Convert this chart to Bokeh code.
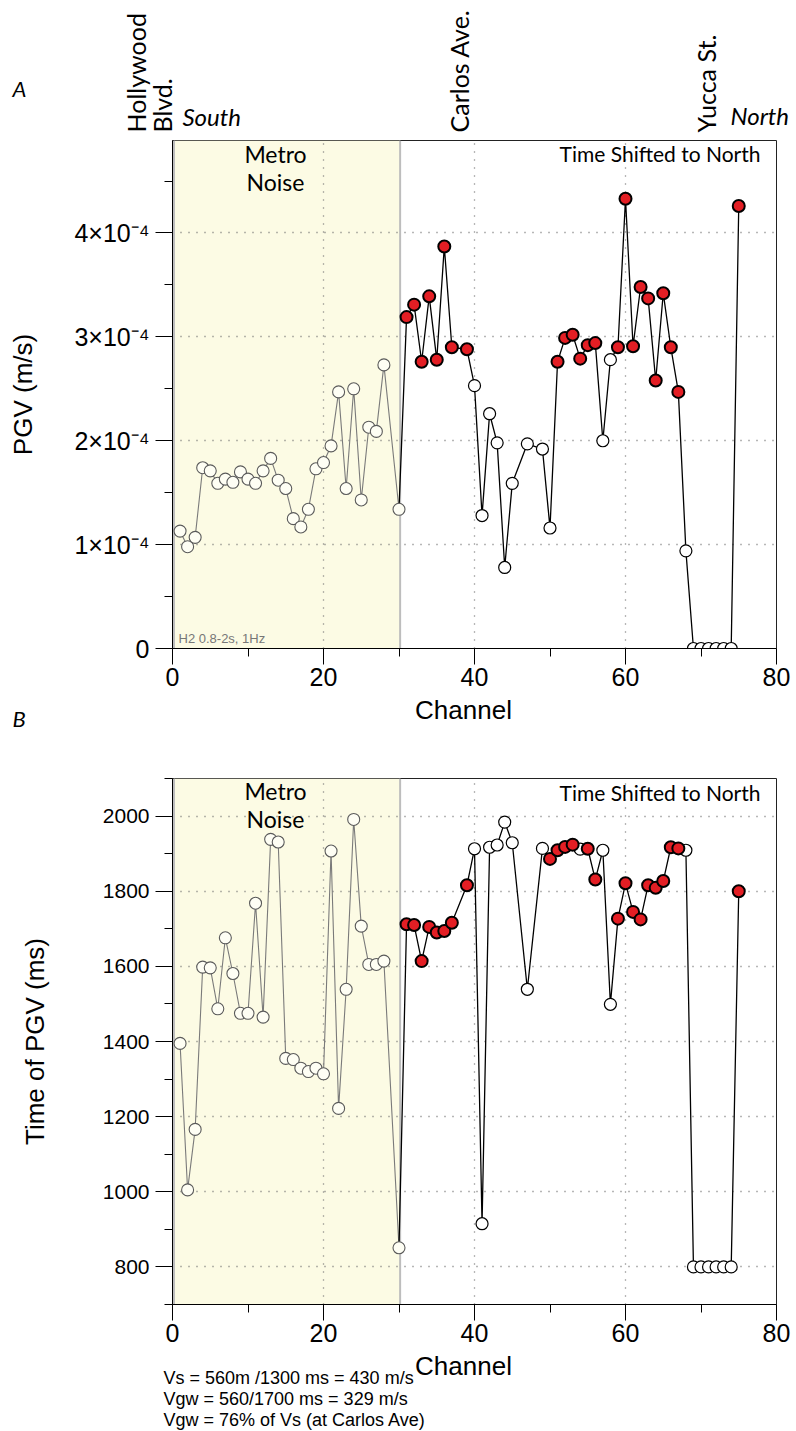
import math
from bokeh.plotting import figure
from bokeh.models import FixedTicker, Label, Span
from bokeh.layouts import column
from bokeh.embed import file_html
from bokeh.resources import INLINE

# ---------------- data ----------------
channels = [1, 2, 3, 4, 5, 6, 7, 8, 9, 10, 11, 12, 13, 14, 15, 16, 17, 18, 19, 20,
            21, 22, 23, 24, 25, 26, 27, 28, 30, 31, 32, 33, 34, 35, 36, 37, 39, 40,
            41, 42, 43, 44, 45, 47, 49, 50, 51, 52, 53, 54, 55, 56, 57, 58, 59, 60,
            61, 62, 63, 64, 65, 66, 67, 68, 69, 70, 71, 72, 73, 74, 75]

# PGV in units of 1e-4 m/s
pgv_1e4 = [1.13, 0.98, 1.07, 1.74, 1.71, 1.59, 1.63, 1.60, 1.70, 1.63, 1.59, 1.71, 1.83, 1.62,
           1.54, 1.25, 1.17, 1.34, 1.73, 1.79, 1.95, 2.47, 1.54, 2.50, 1.43, 2.13, 2.09, 2.73,
           1.34, 3.19, 3.31, 2.76, 3.39, 2.78, 3.87, 2.90, 2.88, 2.53, 1.28, 2.26, 1.98, 0.78,
           1.59, 1.97, 1.92, 1.16, 2.76, 2.99, 3.02, 2.79, 2.92, 2.94, 2.00, 2.78, 2.90, 4.33,
           2.91, 3.48, 3.37, 2.58, 3.42, 2.90, 2.47, 0.94, 0.0, 0.0, 0.0, 0.0, 0.0, 0.0, 4.26]

# Time of PGV in ms
t_pgv = [1395, 1005, 1166, 1598, 1596, 1487, 1676, 1581, 1475, 1475, 1768, 1465, 1938, 1931,
         1355, 1352, 1329, 1320, 1329, 1314, 1907, 1222, 1539, 1991, 1707, 1605, 1605, 1614,
         851, 1712, 1710, 1614, 1705, 1690, 1694, 1716, 1816, 1913, 915, 1917, 1923, 1984,
         1929, 1539, 1914, 1886, 1909, 1918, 1924, 1912, 1913, 1831, 1909, 1499, 1727, 1821,
         1745, 1725, 1816, 1809, 1827, 1917, 1914, 1909, 800, 800, 800, 800, 800, 800, 1800]

red_channels_A = [31, 32, 33, 34, 35, 36, 37, 39, 51, 52, 53, 54, 55, 56, 59, 60, 61, 62,
                  63, 64, 65, 66, 67, 75]
red_channels_B = [31, 32, 33, 34, 35, 36, 37, 39, 50, 51, 52, 53, 55, 56, 59, 60, 61, 62,
                  63, 64, 65, 66, 67, 75]

noise_last_channel = 30
noise_band = [0.2, 30.15]

x_ticks = [0, 20, 40, 60, 80]
x_minor = [10, 30, 50, 70]
pgv_ticks = [0, 1, 2, 3, 4]
pgv_minor = [0.5, 1.5, 2.5, 3.5, 4.5]
pgv_tick_labels = ["0", "1×10⁻⁴", "2×10⁻⁴", "3×10⁻⁴", "4×10⁻⁴"]
t_ticks = [800, 1000, 1200, 1400, 1600, 1800, 2000]
t_minor = [700, 900, 1100, 1300, 1500, 1700, 1900, 2100]

footer_lines = ["Vs = 560m /1300 ms = 430 m/s",
                "Vgw = 560/1700 ms = 329 m/s",
                "Vgw = 76% of Vs (at Carlos Ave)"]

# ---------------- style ----------------
W = 796
ANN_FONT = "Lato"
AX_FONT = "Liberation Sans"
DESC = 0.21          # font descent (fraction of size) used to place baselines
SHADE = "#FCFBE4"
RED = "#E31E24"
BORDER_L, BORDER_R = 172, 20
X_RANGE = (0, 80)


def aux(page_top, height):
    """A text-only canvas whose frame covers the whole strip (data y = -page pixel)."""
    f = figure(width=W, height=height, x_range=(0, W), y_range=(-(page_top + height), -page_top),
               output_backend="svg", toolbar_location=None, min_border=0,
               x_axis_location=None, y_axis_location=None, frame_align=False)
    f.title.visible = False
    f.outline_line_color = None
    f.grid.visible = False
    f.background_fill_color = "white"
    f.border_fill_color = "white"
    return f


def put(f, x, y, txt, size, font=ANN_FONT, style="normal", align="left",
        angle=0.0, color="black"):
    """(x, y): page pixel of the text's baseline start (or the vertical baseline for angle)."""
    if angle:
        x = x + DESC * size
    else:
        y = y + DESC * size
    f.add_layout(Label(x=x, y=-y, text=txt, text_font=font, text_font_size=f"{size}px",
                       text_font_style=style, text_align=align, text_baseline="bottom",
                       angle=angle, text_color=color))


def plot_panel(height, top, bottom, y_range, values, red_set, yticks, yminor,
               ylabels, ytick_size, ylabel, ylabel_standoff):
    p = figure(width=W, height=height, x_range=X_RANGE, y_range=y_range,
               output_backend="svg", toolbar_location=None,
               min_border_left=BORDER_L, min_border_right=BORDER_R,
               min_border_top=top, min_border_bottom=bottom)
    p.title.visible = False
    p.background_fill_color = "white"
    p.border_fill_color = "white"
    p.outline_line_color = "#222222"
    p.outline_line_width = 1

    y0, y1 = y_range
    # metro noise shading
    p.quad(left=[noise_band[0]], right=[noise_band[1]], bottom=[y0], top=[y1],
           fill_color=SHADE, line_color=None, level="image")
    for loc in noise_band:
        p.add_layout(Span(location=loc, dimension="height", line_color="#BDBDBD",
                          line_width=2, level="underlay"))

    # axes
    for ax in p.xaxis:
        ax.ticker = FixedTicker(ticks=x_ticks, minor_ticks=x_minor)
        ax.major_label_text_font_size = "25px"
        ax.major_label_standoff = 3
        ax.major_tick_out = 16
    for ax in p.yaxis:
        ax.ticker = FixedTicker(ticks=yticks, minor_ticks=yminor)
        if ylabels is not None:
            ax.major_label_overrides = {float(t): l for t, l in zip(yticks, ylabels)}
        ax.major_label_text_font_size = f"{ytick_size}px"
        ax.major_label_standoff = 6
        ax.major_tick_out = 17
        ax.axis_label = ylabel
        ax.axis_label_text_font = AX_FONT
        ax.axis_label_text_font_size = "26px"
        ax.axis_label_text_font_style = "normal"
        ax.axis_label_text_color = "black"
        ax.axis_label_standoff = ylabel_standoff
    for ax in list(p.xaxis) + list(p.yaxis):
        ax.axis_line_color = "black"
        ax.axis_line_width = 1
        ax.major_tick_in = 0
        ax.minor_tick_out = 8
        ax.minor_tick_in = 0
        ax.major_tick_line_color = "black"
        ax.minor_tick_line_color = "black"
        ax.major_label_text_font = AX_FONT
        ax.major_label_text_color = "black"

    # grid
    p.xgrid.ticker = FixedTicker(ticks=[t for t in x_ticks if X_RANGE[0] < t < X_RANGE[1]])
    p.ygrid.ticker = FixedTicker(ticks=yticks)
    for g in (p.xgrid, p.ygrid):
        g.grid_line_color = "#6f6f6f"
        g.grid_line_dash = "1 7"
        g.grid_line_width = 1.3

    # split data
    nx = [c for c in channels if c <= noise_last_channel]
    ny = [v for c, v in zip(channels, values) if c <= noise_last_channel]
    qx = [c for c in channels if c >= noise_last_channel]
    qy = [v for c, v in zip(channels, values) if c >= noise_last_channel]
    wx = [c for c in channels if c > noise_last_channel and c not in red_set]
    wy = [v for c, v in zip(channels, values) if c > noise_last_channel and c not in red_set]
    rx = [c for c in channels if c in red_set]
    ry = [v for c, v in zip(channels, values) if c in red_set]

    p.line(nx, ny, line_color="#7a7a7a", line_width=1.1)
    p.line(qx, qy, line_color="black", line_width=1.3)
    p.scatter(nx, ny, marker="circle", size=12, fill_color="#FEFEF4",
              line_color="#5a5a5a", line_width=1.1)
    p.scatter(wx, wy, marker="circle", size=12, fill_color="white",
              line_color="black", line_width=1.2)
    p.scatter(rx, ry, marker="circle", size=12, fill_color=RED,
              line_color="black", line_width=2)
    return p


def frame_label(p, y_range, frame_top, frame_bottom, px, py, txt, size, font=ANN_FONT,
                align="left", color="black"):
    """(px, py): page pixel of the baseline anchor inside a plot frame."""
    y0, y1 = y_range
    py = py + DESC * size
    x = X_RANGE[0] + (px - BORDER_L) / (W - BORDER_L - BORDER_R) * (X_RANGE[1] - X_RANGE[0])
    y = y0 + (frame_bottom - py) / (frame_bottom - frame_top) * (y1 - y0)
    p.add_layout(Label(x=x, y=y, text=txt, text_font=font, text_font_size=f"{size}px",
                       text_align=align, text_baseline="bottom", text_color=color))


# page layout (pixels from top): headers / plots / strips
HA_TOP, HA_H = 0, 138
PA_TOP, PA_H = 138, 558          # frame 140..648
MID_TOP, MID_H = 696, 80
PB_TOP, PB_H = 776, 575          # frame 778..1304
FT_TOP, FT_H = 1351, 80

# ---- header A ----
hA = aux(HA_TOP, HA_H)
put(hA, 12, 97, "A", 22, style="italic")
put(hA, 145, 132, "Hollywood", 25, angle=math.pi / 2)
put(hA, 171, 132, "Blvd.", 25, angle=math.pi / 2)
put(hA, 182, 125, "South", 24, style="italic")
put(hA, 468, 132, "Carlos Ave.", 25, angle=math.pi / 2)
put(hA, 715, 132, "Yucca St.", 25, angle=math.pi / 2)
put(hA, 730, 124, "North", 24, style="italic")

# ---- panel A ----
YA = (0, 4.89)
pA = plot_panel(PA_H, 2, 48, YA, pgv_1e4, set(red_channels_A), pgv_ticks, pgv_minor,
                pgv_tick_labels, 25, "PGV (m/s)", 33)
frame_label(pA, YA, 140, 648, 275, 163, "Metro", 23, align="center")
frame_label(pA, YA, 140, 648, 275, 191, "Noise", 23, align="center")
frame_label(pA, YA, 140, 648, 760, 161, "Time Shifted to North", 21, align="right")
frame_label(pA, YA, 140, 648, 178, 643, "H2 0.8-2s, 1Hz", 13, font=AX_FONT, color="#777777")

# ---- strip between panels ----
mid = aux(MID_TOP, MID_H)
put(mid, 463, 719, "Channel", 26, font=AX_FONT, align="center")
put(mid, 12, 727, "B", 22, style="italic")

# ---- panel B ----
YB = (700, 2100)
pB = plot_panel(PB_H, 2, 47, YB, t_pgv, set(red_channels_B), t_ticks, t_minor,
                None, 21, "Time of PGV (ms)", 50)
frame_label(pB, YB, 778, 1304, 275, 800, "Metro", 23, align="center")
frame_label(pB, YB, 778, 1304, 275, 828, "Noise", 23, align="center")
frame_label(pB, YB, 778, 1304, 760, 800, "Time Shifted to North", 21, align="right")

# ---- footer ----
ft = aux(FT_TOP, FT_H)
put(ft, 463, 1375, "Channel", 26, font=AX_FONT, align="center")
for i, line in enumerate(footer_lines):
    put(ft, 163, 1384 + 21 * i, line, 18, font=AX_FONT)

layout = column(hA, pA, mid, pB, ft, spacing=0)
open("out.html", "w").write(file_html(layout, INLINE))
